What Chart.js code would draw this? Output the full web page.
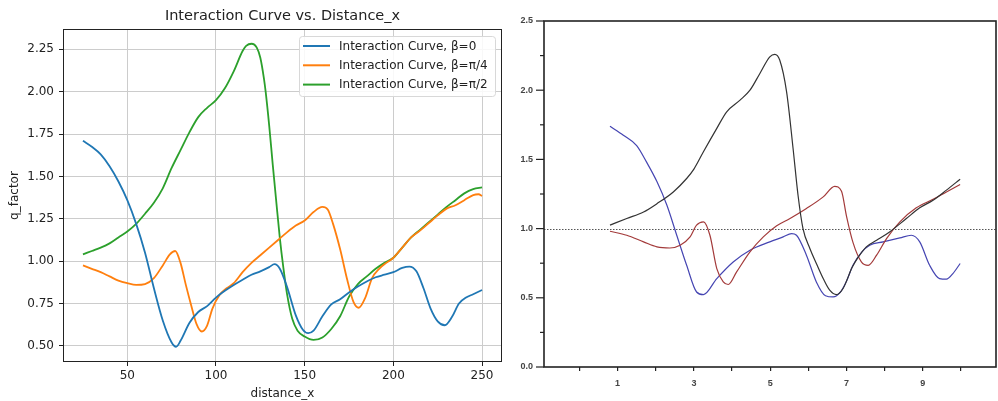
<!DOCTYPE html>
<html>
<head>
<meta charset="utf-8">
<script src="https://cdn.jsdelivr.net/npm/chart.js@4/dist/chart.umd.min.js"></script>
<style>
  html, body { margin: 0; padding: 0; background: #fff; }
  #chart-left { position: absolute; left: 0; top: 0; }
  #chart-right { position: absolute; left: 504px; top: 0; }
</style>
</head>
<body>
<canvas id="chart-left" width="504" height="401"></canvas>
<canvas id="chart-right" width="494" height="401"></canvas>
<script>
// --- LEFT PANEL DATA (matplotlib style) ---
const leftTitle = 'Interaction Curve vs. Distance_x';
const leftLabels = ['Interaction Curve, β=0', 'Interaction Curve, β=π/4', 'Interaction Curve, β=π/2'];
const leftXTicks = [50, 100, 150, 200, 250];
const leftYTicks = [0.5, 0.75, 1.0, 1.25, 1.5, 1.75, 2.0, 2.25];

const beta0X = [25, 30, 35, 40, 45, 50, 55, 60, 65, 70, 75, 77.5, 80, 85, 90, 95, 100, 105, 110, 115, 120, 125, 130, 133, 136, 140, 145, 149, 152, 155, 160, 165, 170, 175, 180, 185, 190, 195, 200, 205, 209, 213, 217, 221, 225, 229, 233, 237, 241, 245, 250];
const beta0Y = [1.71, 1.675, 1.63, 1.56, 1.47, 1.36, 1.22, 1.05, 0.84, 0.65, 0.52, 0.495, 0.53, 0.635, 0.70, 0.735, 0.785, 0.825, 0.86, 0.89, 0.92, 0.94, 0.965, 0.982, 0.955, 0.85, 0.68, 0.595, 0.575, 0.59, 0.675, 0.745, 0.775, 0.815, 0.85, 0.88, 0.905, 0.92, 0.935, 0.96, 0.968, 0.94, 0.84, 0.72, 0.645, 0.622, 0.67, 0.75, 0.785, 0.805, 0.83];

const betaQX = [25, 30, 35, 40, 45, 50, 55, 60, 65, 70, 74, 77, 80, 83, 86, 89, 92, 95, 98, 102, 106, 110, 115, 120, 125, 130, 135, 140, 145, 150, 155, 160, 163, 166, 170, 174, 177.5, 180.5, 184, 188, 192, 196, 200, 205, 210, 215, 220, 225, 230, 235, 240, 245, 248, 250];
const betaQY = [0.975, 0.955, 0.935, 0.91, 0.885, 0.87, 0.86, 0.865, 0.90, 0.975, 1.04, 1.06, 0.99, 0.86, 0.74, 0.63, 0.585, 0.62, 0.72, 0.80, 0.84, 0.87, 0.935, 0.99, 1.035, 1.08, 1.125, 1.17, 1.21, 1.24, 1.29, 1.32, 1.305, 1.22, 1.07, 0.89, 0.76, 0.725, 0.78, 0.90, 0.955, 0.99, 1.02, 1.08, 1.14, 1.18, 1.225, 1.27, 1.31, 1.33, 1.36, 1.39, 1.395, 1.385];

const betaHX = [25, 30, 35, 40, 45, 50, 55, 60, 65, 70, 75, 80, 85, 90, 95, 100, 105, 110, 115, 117, 120, 123, 125, 127, 128, 130, 132, 134, 136, 138, 140, 143, 146, 150, 155, 160, 165, 170, 175, 180, 185, 190, 195, 200, 205, 210, 215, 220, 225, 230, 235, 240, 245, 250];
const betaHY = [1.04, 1.06, 1.08, 1.105, 1.14, 1.175, 1.22, 1.28, 1.345, 1.43, 1.55, 1.655, 1.76, 1.85, 1.905, 1.95, 2.02, 2.12, 2.24, 2.27, 2.283, 2.26, 2.2, 2.08, 2.0, 1.80, 1.57, 1.35, 1.136, 0.96, 0.81, 0.66, 0.59, 0.555, 0.535, 0.55, 0.60, 0.675, 0.79, 0.865, 0.91, 0.955, 0.99, 1.02, 1.08, 1.14, 1.185, 1.23, 1.275, 1.32, 1.36, 1.40, 1.425, 1.435];

// --- RIGHT PANEL DATA (replotted curves) ---
const rightBlackX = [0.8, 1.24, 1.68, 2.03, 2.46, 2.81, 3.0, 3.25, 3.6, 3.86, 4.21, 4.47, 4.73, 4.99, 5.12, 5.25, 5.43, 5.6, 5.73, 5.86, 6.04, 6.21, 6.39, 6.56, 6.74, 6.91, 7.15, 7.3, 7.52, 7.79, 8.13, 8.57, 8.92, 9.27, 9.62, 9.98];
const rightBlackY = [1.025, 1.073, 1.12, 1.18, 1.265, 1.362, 1.43, 1.555, 1.724, 1.844, 1.928, 2.0, 2.121, 2.241, 2.259, 2.218, 1.988, 1.579, 1.241, 1.0, 0.856, 0.748, 0.639, 0.555, 0.523, 0.567, 0.72, 0.79, 0.868, 0.916, 0.976, 1.073, 1.15, 1.205, 1.278, 1.357];

const rightRedX = [0.8, 1.24, 1.68, 2.03, 2.37, 2.64, 2.9, 3.07, 3.25, 3.42, 3.6, 3.77, 3.9, 4.12, 4.47, 4.82, 5.17, 5.52, 5.95, 6.39, 6.69, 6.87, 7.0, 7.17, 7.39, 7.57, 7.79, 8.05, 8.4, 8.83, 9.27, 9.62, 9.98];
const rightRedY = [0.981, 0.952, 0.904, 0.868, 0.86, 0.88, 0.94, 1.025, 1.049, 0.952, 0.711, 0.615, 0.596, 0.687, 0.832, 0.94, 1.02, 1.073, 1.145, 1.229, 1.305, 1.27, 1.09, 0.9, 0.76, 0.735, 0.808, 0.928, 1.049, 1.15, 1.212, 1.265, 1.319];

const rightBlueX = [0.8, 1.15, 1.5, 1.76, 2.03, 2.29, 2.55, 2.81, 3.07, 3.25, 3.6, 4.03, 4.47, 4.99, 5.34, 5.56, 5.69, 5.95, 6.21, 6.45, 6.65, 6.85, 7.0, 7.17, 7.4, 7.61, 7.96, 8.4, 8.7, 8.92, 9.18, 9.44, 9.62, 9.79, 9.98];
const rightBlueY = [1.74, 1.675, 1.60, 1.48, 1.34, 1.17, 0.952, 0.735, 0.542, 0.523, 0.639, 0.759, 0.844, 0.904, 0.94, 0.964, 0.952, 0.808, 0.615, 0.515, 0.506, 0.545, 0.62, 0.735, 0.83, 0.88, 0.904, 0.933, 0.952, 0.904, 0.735, 0.639, 0.635, 0.675, 0.748];

const rightXTicks = [0, 1, 2, 3, 4, 5, 6, 7, 8, 9, 10];
const rightRefLine = 1.0;

const pts = (xs, ys) => xs.map((x, i) => ({ x, y: ys[i] }));
const fixedTicks = list => scale => { scale.ticks = list.map(v => ({ value: v })); };

// --- PLUGINS ---
const leftDecor = {
    id: 'leftDecor',
    afterDraw(chart) {
        const { ctx, chartArea: a } = chart;
        ctx.save();
        // spines
        ctx.strokeStyle = '#222';
        ctx.lineWidth = 1;
        ctx.strokeRect(a.left + 0.5, a.top + 0.5, a.right - a.left - 1, a.bottom - a.top - 1);
        // title
        ctx.fillStyle = '#222';
        ctx.font = '14.5px "DejaVu Sans"';
        ctx.textAlign = 'center';
        ctx.textBaseline = 'middle';
        ctx.fillText(leftTitle, (a.left + a.right) / 2, 16);
        // legend box
        const bx = a.right - 203, by = a.top + 7, bw = 196, bh = 60;
        ctx.fillStyle = 'rgba(255,255,255,0.85)';
        ctx.strokeStyle = '#d8d8d8';
        ctx.beginPath();
        ctx.roundRect(bx + 0.5, by + 0.5, bw, bh, 3);
        ctx.fill();
        ctx.stroke();
        ctx.font = '12px "DejaVu Sans"';
        ctx.textAlign = 'left';
        chart.data.datasets.forEach((ds, i) => {
            const y = by + 10 + i * 19.3;
            ctx.strokeStyle = ds.borderColor;
            ctx.lineWidth = 2;
            ctx.beginPath();
            ctx.moveTo(bx + 4, y);
            ctx.lineTo(bx + 31, y);
            ctx.stroke();
            ctx.fillStyle = '#222';
            ctx.fillText(ds.label, bx + 40, y + 0.5);
        });
        ctx.restore();
    }
};

const rightDecor = {
    id: 'rightDecor',
    beforeDatasetsDraw(chart) {
        const { ctx, chartArea: a, scales: { y } } = chart;
        const yy = Math.round(y.getPixelForValue(rightRefLine)) + 0.5;
        ctx.save();
        ctx.strokeStyle = '#555';
        ctx.lineWidth = 1;
        ctx.setLineDash([1.5, 1.5]);
        ctx.beginPath();
        ctx.moveTo(a.left, yy);
        ctx.lineTo(a.right, yy);
        ctx.stroke();
        ctx.restore();
    },
    afterDraw(chart) {
        const { ctx, chartArea: a, scales: { y } } = chart;
        ctx.save();
        ctx.strokeStyle = '#222';
        ctx.lineWidth = 1.6;
        ctx.strokeRect(a.left, a.top, a.right - a.left, a.bottom - a.top);
        // y tick marks: major at labels, minor halfway
        ctx.lineWidth = 1.2;
        const vals = y.ticks.map(t => t.value);
        vals.forEach((v, i) => {
            const py = y.getPixelForValue(v);
            ctx.beginPath();
            ctx.moveTo(a.left - 8, py);
            ctx.lineTo(a.left, py);
            ctx.stroke();
            if (i < vals.length - 1) {
                const pm = y.getPixelForValue((v + vals[i + 1]) / 2);
                ctx.beginPath();
                ctx.moveTo(a.left - 4, pm);
                ctx.lineTo(a.left, pm);
                ctx.stroke();
            }
        });
        ctx.restore();
    }
};

// --- LEFT CHART ---
const leftColors = ['#1f77b4', '#ff7f0e', '#2ca02c'];
const leftSeries = [pts(beta0X, beta0Y), pts(betaQX, betaQY), pts(betaHX, betaHY)];

new Chart(document.getElementById('chart-left'), {
    type: 'line',
    data: {
        datasets: leftSeries.map((d, i) => ({
            label: leftLabels[i],
            data: d,
            borderColor: leftColors[i],
            borderWidth: 1.8,
            pointRadius: 0,
            cubicInterpolationMode: 'monotone',
            fill: false
        }))
    },
    options: {
        responsive: false,
        animation: false,
        layout: { padding: { top: 29, right: 2, left: 0, bottom: 0 } },
        plugins: { legend: { display: false }, tooltip: { enabled: false } },
        scales: {
            x: {
                type: 'linear',
                min: 13.75,
                max: 261.25,
                afterBuildTicks: fixedTicks(leftXTicks),
                afterFit: s => { s.height = 39; s.paddingLeft = 0; s.paddingRight = 0; },
                border: { display: false },
                grid: { color: '#cccccc', lineWidth: 1, tickColor: '#222', tickLength: 4 },
                ticks: { autoSkip: false, maxRotation: 0, color: '#222', padding: 3, font: { family: 'DejaVu Sans', size: 12 } },
                title: { display: true, text: 'distance_x', color: '#222', padding: { top: 1, bottom: 0 }, font: { family: 'DejaVu Sans', size: 12 } }
            },
            y: {
                min: 0.405,
                max: 2.37,
                afterBuildTicks: fixedTicks(leftYTicks),
                afterFit: s => { s.width = 63; },
                border: { display: false },
                grid: { color: '#cccccc', lineWidth: 1, tickColor: '#222', tickLength: 4 },
                ticks: { autoSkip: false, color: '#222', padding: 5, font: { family: 'DejaVu Sans', size: 12 }, callback: v => Number(v).toFixed(2) },
                title: { display: true, text: 'q_factor', color: '#222', padding: { top: 8, bottom: 0 }, font: { family: 'DejaVu Sans', size: 12 } }
            }
        }
    },
    plugins: [leftDecor]
});

// --- RIGHT CHART ---
const rightColors = ['#333333', '#a33a3a', '#4545b2'];
const rightSeries = [pts(rightBlackX, rightBlackY), pts(rightRedX, rightRedY), pts(rightBlueX, rightBlueY)];

new Chart(document.getElementById('chart-right'), {
    type: 'line',
    data: {
        datasets: rightSeries.map((d, i) => ({
            data: d,
            borderColor: rightColors[i],
            borderWidth: 1.2,
            pointRadius: 0,
            cubicInterpolationMode: 'monotone',
            fill: false
        }))
    },
    options: {
        responsive: false,
        animation: false,
        layout: { padding: { top: 21, right: 2, left: 0, bottom: 0 } },
        plugins: { legend: { display: false }, tooltip: { enabled: false } },
        scales: {
            x: {
                type: 'linear',
                min: -0.93,
                max: 10.92,
                afterBuildTicks: fixedTicks(rightXTicks),
                afterFit: s => { s.height = 34; s.paddingLeft = 0; s.paddingRight = 0; },
                border: { display: false },
                grid: { drawOnChartArea: false, tickColor: '#222', tickLength: 4, lineWidth: 1.2 },
                ticks: {
                    autoSkip: false, maxRotation: 0,
                    color: '#444', padding: 7, font: { family: 'Liberation Sans', size: 9, weight: 'bold' },
                    callback: v => (Math.abs(v % 2) === 1 ? String(v) : '')
                }
            },
            y: {
                min: 0,
                max: 2.5,
                afterFit: s => { s.width = 40; },
                border: { display: false },
                grid: { display: false, tickLength: 8 },
                ticks: { stepSize: 0.5, color: '#444', padding: 3, font: { family: 'Liberation Sans', size: 9, weight: 'bold' }, callback: v => Number(v).toFixed(1) }
            }
        }
    },
    plugins: [rightDecor]
});
</script>
</body>
</html>
